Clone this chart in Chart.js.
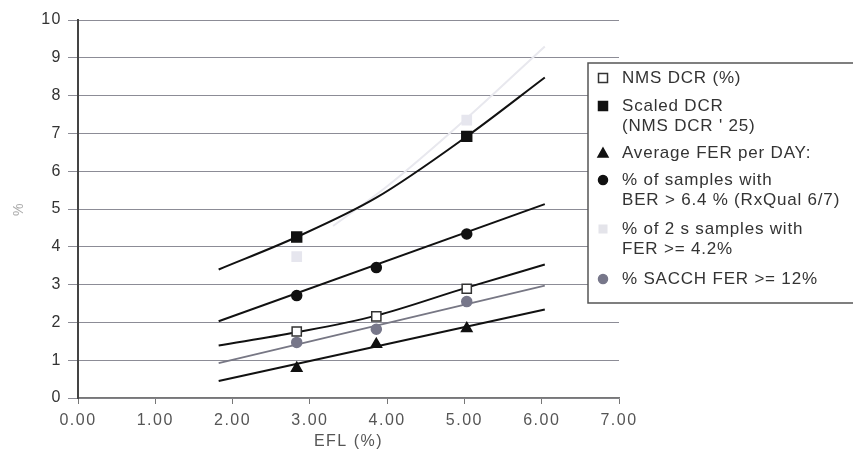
<!DOCTYPE html>
<html>
<head>
<meta charset="utf-8">
<script src="https://cdn.jsdelivr.net/npm/chart.js@4/dist/chart.umd.min.js"></script>
<style>
  html, body { margin: 0; padding: 0; background: #fff; }
  #wrap { width: 853px; height: 452px; }
</style>
</head>
<body>
<div id="wrap"><canvas id="c" width="853" height="452"></canvas></div>
<script>
// measured points (EFL % on x); null = no marker visible in the source
const eflPoints = [2.83, 3.86, 5.03];
const nmsDcr = [1.76, 2.16, 2.89];
const scaledDcr = [4.26, null, 6.92];
const avgFer = [0.79, 1.42, 1.84];
const berSamples = [2.71, 3.45, 4.34];
const ferSamples = [3.74, null, 7.35];
const sacchFer = [1.47, 1.82, 2.55];

// trend lines
const curveX = [1.82, 2.83, 3.86, 5.03, 6.04];
const nmsTrend = [1.39, 1.74, 2.18, 2.92, 3.53];
const scaledTrend = [3.40, 4.26, 5.30, 6.92, 8.48];
const ferX = [3.30, 4.00, 5.03, 6.04];
const ferTrend = [4.55, 5.60, 7.40, 9.30];
const lineX = [1.82, 6.04];
const avgTrend = [0.45, 2.34];
const berTrend = [2.03, 5.13];
const sacchTrend = [0.92, 2.97];

const legendItems = [
  { lines: ["NMS DCR (%)"], style: "rect", fill: "#fff", stroke: "#333", r: 6 },
  { lines: ["Scaled DCR", "(NMS DCR ' 25)"], style: "rect", fill: "#111", stroke: "#111", r: 6 },
  { lines: ["Average FER per DAY:"], style: "triangle", fill: "#111", stroke: "#111", r: 5 },
  { lines: ["% of samples with", "BER > 6.4 % (RxQual 6/7)"], style: "circle", fill: "#111", stroke: "#111", r: 4.5 },
  { lines: ["% of 2 s samples with", "FER >= 4.2%"], style: "rect", fill: "#e4e4ea", stroke: "#e4e4ea", r: 5 },
  { lines: ["% SACCH FER >= 12%"], style: "circle", fill: "#77778a", stroke: "#77778a", r: 4.5 },
];

const pts = (xs, ys) => xs.map((x, i) => ({ x, y: ys[i] }));

function markers(data, style, fill, stroke, r) {
  return {
    data: pts(eflPoints, data),
    showLine: false,
    pointStyle: style,
    pointRadius: r,
    pointBackgroundColor: fill,
    pointBorderColor: stroke,
    pointBorderWidth: 1.5,
    order: 0,
  };
}

function trend(xs, ys, color, width, order, tension) {
  return {
    data: pts(xs, ys),
    showLine: true,
    borderColor: color,
    borderWidth: width,
    pointRadius: 0,
    tension: tension || 0,
    cubicInterpolationMode: tension ? "monotone" : "default",
    order,
  };
}

// draws the boxed legend that sits over the right edge of the plot
const boxLegend = {
  id: "boxLegend",
  afterDraw(chart) {
    const ctx = chart.ctx;
    ctx.save();
    ctx.fillStyle = "#fff";
    ctx.fillRect(588, 63, 280, 240);
    ctx.strokeStyle = "#555";
    ctx.lineWidth = 1.5;
    ctx.strokeRect(588, 63, 280, 240);

    ctx.font = "17px 'Liberation Sans', Arial, sans-serif";
    ctx.letterSpacing = "0.8px";
    ctx.textBaseline = "middle";
    const rowY = [78, 106, 153, 180, 229, 279];
    legendItems.forEach((it, i) => {
      const y = rowY[i];
      const x = 603;
      ctx.fillStyle = it.fill;
      ctx.strokeStyle = it.stroke;
      ctx.lineWidth = 1.5;
      ctx.beginPath();
      if (it.style === "rect") {
        const s = it.r * 0.75;
        ctx.rect(x - s, y - s, s * 2, s * 2);
      } else if (it.style === "circle") {
        ctx.arc(x, y, it.r, 0, Math.PI * 2);
      } else {
        ctx.moveTo(x, y - it.r);
        ctx.lineTo(x + it.r, y + it.r * 0.8);
        ctx.lineTo(x - it.r, y + it.r * 0.8);
        ctx.closePath();
      }
      ctx.fill();
      ctx.stroke();
      ctx.fillStyle = "#333";
      it.lines.forEach((t, j) => ctx.fillText(t, 622, y + j * 20));
    });
    ctx.restore();
  },
};

const spacing = {
  id: "spacing",
  beforeDraw(chart) { chart.ctx.letterSpacing = "1.5px"; },
};

new Chart(document.getElementById("c"), {
  type: "scatter",
  data: {
    datasets: [
      markers(nmsDcr, "rect", "#fff", "#333", 6.5),
      markers(scaledDcr, "rect", "#111", "#111", 7),
      markers(avgFer, "triangle", "#111", "#111", 6),
      markers(berSamples, "circle", "#111", "#111", 5),
      markers(sacchFer, "circle", "#77778a", "#77778a", 5),
      { ...markers(ferSamples, "rect", "#e6e6ee", "#e6e6ee", 6.5), order: 3 },
      trend(curveX, nmsTrend, "#111", 2, 1, 0.4),
      trend(curveX, scaledTrend, "#111", 2, 1, 0.4),
      trend(lineX, avgTrend, "#111", 2, 1),
      trend(lineX, berTrend, "#111", 2, 1),
      trend(lineX, sacchTrend, "#777784", 1.8, 1),
      trend(ferX, ferTrend, "#e8e8ee", 2, 4, 0.4),
    ],
  },
  options: {
    responsive: false,
    animation: false,
    devicePixelRatio: 1,
    layout: { padding: { left: 0, top: 20, right: 234, bottom: 0 } },
    plugins: { legend: { display: false }, tooltip: { enabled: false } },
    scales: {
      x: {
        type: "linear",
        min: 0,
        max: 7,
        afterFit: (s) => { s.height = 54; },
        grid: { drawOnChartArea: false, drawTicks: true, tickLength: 6, color: "#777" },
        border: { color: "#777", width: 1.5 },
        ticks: {
          stepSize: 1,
          padding: 7,
          color: "#555",
          font: { family: "'Liberation Sans', Arial, sans-serif", size: 16 },
          callback: (v) => v.toFixed(2),
        },
        title: {
          display: true,
          text: "EFL (%)",
          color: "#555",
          font: { family: "'Liberation Sans', Arial, sans-serif", size: 16 },
          padding: { top: 0, bottom: 1 },
        },
      },
      y: {
        min: 0,
        max: 10,
        afterFit: (s) => { s.width = 78; },
        grid: { color: "#8c8c96", lineWidth: 1, tickLength: 10 },
        border: { color: "#444", width: 2 },
        ticks: {
          stepSize: 1,
          padding: 6,
          color: "#333",
          font: { family: "'Liberation Sans', Arial, sans-serif", size: 16 },
        },
        title: {
          display: true,
          text: "%",
          color: "#aaa",
          font: { family: "'Liberation Sans', Arial, sans-serif", size: 14 },
          padding: { top: 11, bottom: 0 },
        },
      },
    },
  },
  plugins: [spacing, boxLegend],
});
</script>
</body>
</html>
